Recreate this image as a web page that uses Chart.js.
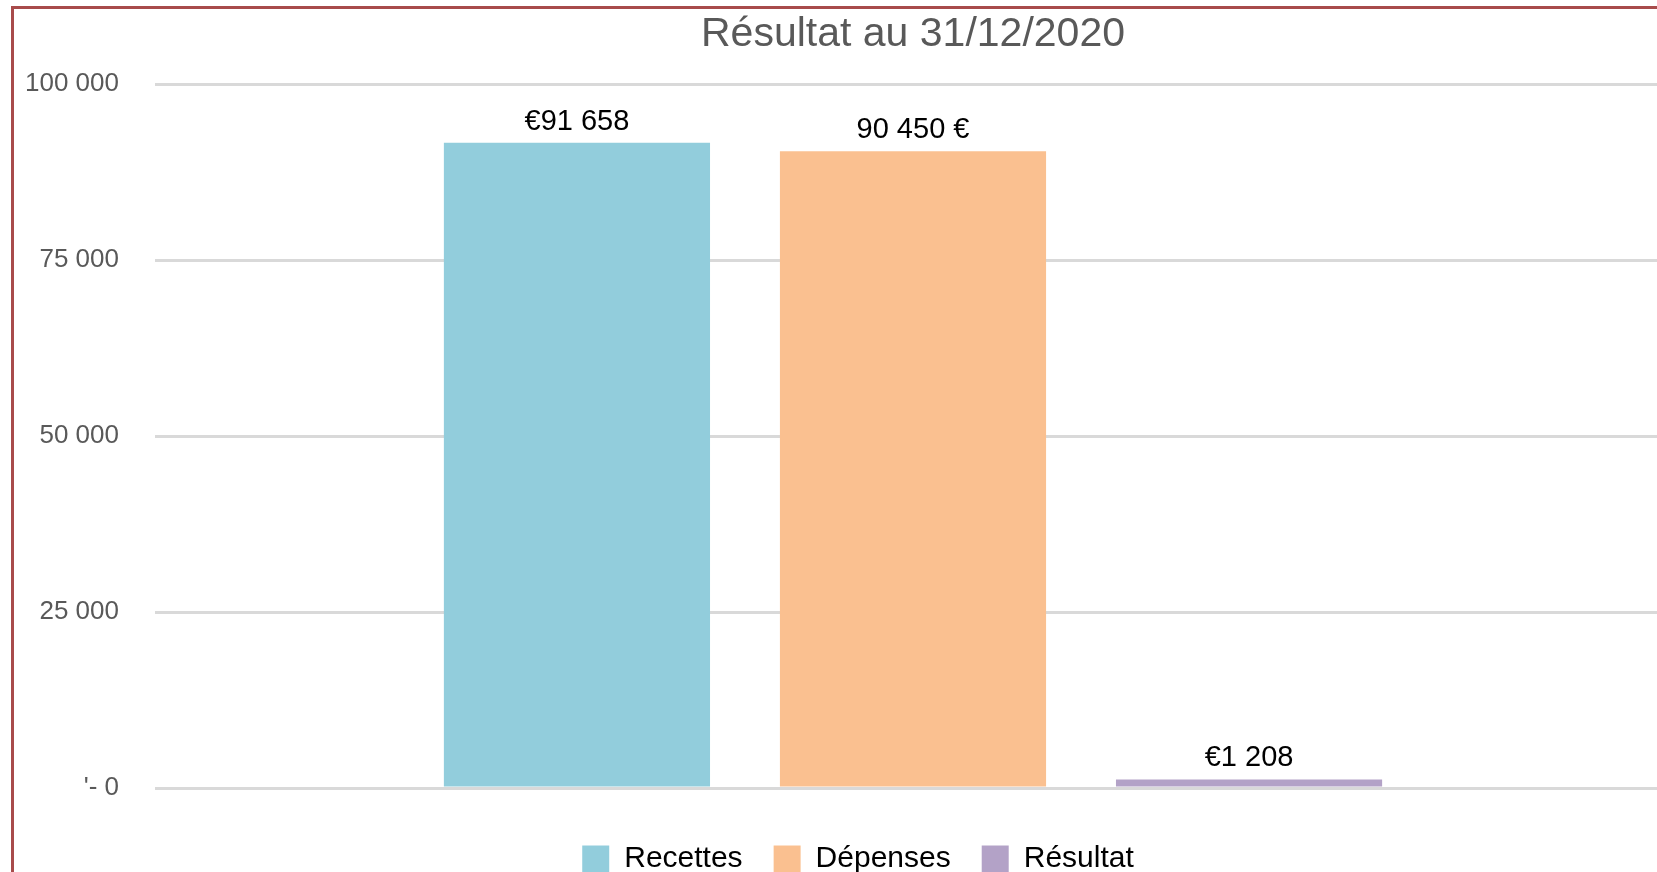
<!DOCTYPE html>
<html lang="fr">
<head>
    <meta charset="UTF-8">
    <title>Résultat au 31/12/2020</title>
    <script src="https://cdn.jsdelivr.net/npm/chart.js"></script>
    <style>
        html, body {
            margin: 0;
            padding: 0;
            background: #ffffff;
            overflow: hidden;
        }
        .cadre {
            position: absolute;
            left: 11px;
            top: 6px;
            right: -30px;
            bottom: -30px;
            border: 3px solid #a84b4b;
        }
        #graphique {
            position: absolute;
            left: 0;
            top: 0;
            display: block;
        }
    </style>
</head>
<body>
    <div class="cadre"></div>
    <canvas id="graphique" width="1712" height="884"></canvas>
    <script>
        const titre = 'Résultat au 31/12/2020';
        const series = ['Recettes', 'Dépenses', 'Résultat'];
        const valeurs = [91658, 90450, 1208];
        const etiquettes = ['€91 658', '90 450 €', '€1 208'];
        const couleurs = ['#92cddc', '#fac090', '#b3a2c7'];
        const graduations = [0, 25000, 50000, 75000, 100000];
        const libellesGraduations = ["'- 0", '25 000', '50 000', '75 000', '100 000'];

        const police = '"Liberation Sans", Arial, sans-serif';

        // titre centré sur la zone de tracé
        const pluginTitre = {
            id: 'titre',
            afterDraw(chart) {
                const ctx = chart.ctx;
                const zone = chart.chartArea;
                ctx.save();
                ctx.font = '41px ' + police;
                ctx.fillStyle = '#595959';
                ctx.textAlign = 'center';
                ctx.textBaseline = 'alphabetic';
                ctx.fillText(titre, (zone.left + zone.right) / 2, 46);
                ctx.restore();
            }
        };

        // valeurs au-dessus des barres
        const pluginEtiquettes = {
            id: 'etiquettes',
            afterDatasetsDraw(chart) {
                const ctx = chart.ctx;
                ctx.save();
                ctx.font = '29px ' + police;
                ctx.fillStyle = '#000000';
                ctx.textAlign = 'center';
                ctx.textBaseline = 'alphabetic';
                chart.data.datasets.forEach((ds, i) => {
                    const barre = chart.getDatasetMeta(i).data[0];
                    ctx.fillText(etiquettes[i], barre.x, barre.y - 13);
                });
                ctx.restore();
            }
        };

        // la légende est centrée un peu plus à droite que le canvas
        const pluginLegende = {
            id: 'decalageLegende',
            afterLayout(chart) {
                chart.legend.left = 45;
            }
        };

        const ctx = document.getElementById('graphique').getContext('2d');
        new Chart(ctx, {
            type: 'bar',
            data: {
                labels: [''],
                datasets: series.map((nom, i) => ({
                    label: nom,
                    data: [valeurs[i]],
                    backgroundColor: couleurs[i],
                    borderWidth: 0
                }))
            },
            options: {
                responsive: false,
                animation: false,
                categoryPercentage: 0.665,
                barPercentage: 0.792,
                layout: {
                    padding: { left: 0, right: 41, top: 84, bottom: 0 }
                },
                plugins: {
                    title: { display: false },
                    tooltip: { enabled: false },
                    legend: {
                        display: true,
                        position: 'bottom',
                        labels: {
                            boxWidth: 27,
                            boxHeight: 27,
                            padding: 31,
                            color: '#000000',
                            font: { family: police, size: 30 }
                        }
                    }
                },
                scales: {
                    x: {
                        display: true,
                        grid: { display: false },
                        border: { display: false },
                        ticks: { display: false },
                        afterFit(scale) { scale.height = 25; }
                    },
                    y: {
                        min: 0,
                        max: 100000,
                        afterFit(scale) { scale.width = 155; },
                        afterBuildTicks(scale) {
                            scale.ticks = graduations.map(v => ({ value: v }));
                        },
                        grid: {
                            color: '#d9d9d9',
                            lineWidth: 3,
                            drawTicks: false
                        },
                        border: { display: false },
                        ticks: {
                            padding: 36,
                            color: '#595959',
                            font: { family: police, size: 26 },
                            callback: (v) => libellesGraduations[graduations.indexOf(v)]
                        }
                    }
                }
            },
            plugins: [pluginTitre, pluginEtiquettes, pluginLegende]
        });
    </script>
</body>
</html>
